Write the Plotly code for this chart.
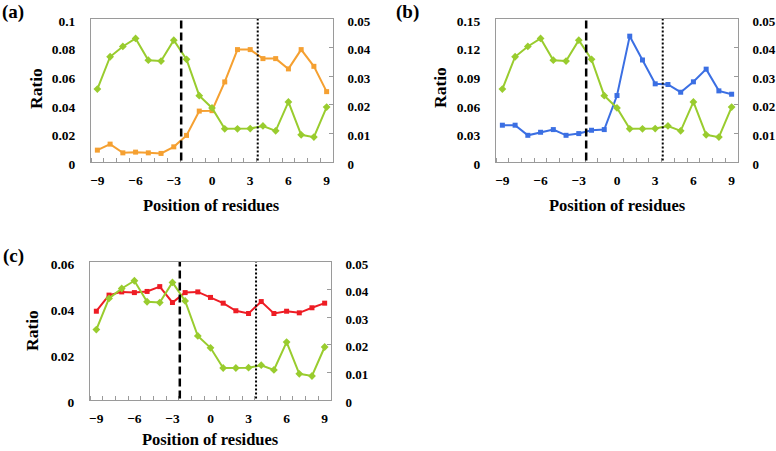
import plotly.graph_objects as go

# ---------------- data ----------------
positions = list(range(-9, 10))

# common series (right axis, green diamonds)
green_ratio = [0.0255, 0.0368, 0.0404, 0.0432, 0.0356, 0.0353, 0.0426, 0.0359, 0.0232, 0.0189,
               0.0116, 0.0116, 0.0117, 0.0126, 0.0109, 0.0210, 0.0095, 0.0087, 0.0192]

# panel (a) orange squares (left axis)
orange_ratio = [0.0083, 0.0125, 0.0064, 0.0069, 0.0064, 0.0060, 0.0106, 0.0186, 0.0356, 0.0359,
                0.0560, 0.0786, 0.0786, 0.0723, 0.0723, 0.0651, 0.0786, 0.0669, 0.0492]

# panel (b) blue squares (left axis)
blue_ratio = [0.0386, 0.0386, 0.0280, 0.0312, 0.0340, 0.0280, 0.0298, 0.0333, 0.0340, 0.0697,
              0.1320, 0.1070, 0.0820, 0.0813, 0.0732, 0.0841, 0.0974, 0.0746, 0.0711]

# panel (c) red squares (left axis)
red_ratio = [0.0386, 0.0456, 0.0470, 0.0467, 0.0472, 0.0493, 0.0424, 0.0467, 0.0470, 0.0446,
             0.0421, 0.0388, 0.0376, 0.0428, 0.0376, 0.0386, 0.0379, 0.0401, 0.0421]

x_ticks = [-9, -6, -3, 0, 3, 6, 9]
left_ticks_a = [0, 0.02, 0.04, 0.06, 0.08, 0.1]
left_ticks_b = [0, 0.03, 0.06, 0.09, 0.12, 0.15]
left_ticks_c = [0, 0.02, 0.04, 0.06]
right_ticks = [0, 0.01, 0.02, 0.03, 0.04, 0.05]

dashed_pos = -2.42
dotted_pos = 3.59

panel_labels = ["(a)", "(b)", "(c)"]
x_title = "Position of residues"
y_title = "Ratio"

# ---------------- styling ----------------
W, H = 776, 451
FONT = "Liberation Serif, Times New Roman, serif"
GREEN = "#99cc2e"
ORANGE = "#f5a031"
BLUE = "#3b6fe3"
RED = "#ee1c24"
AXC = "#9a9a9a"

def px_x(v):
    return v / W

def px_y(v):
    return 1 - v / H

panels = [
    dict(x0=91, x1=333, top=19, bot=162, lr=[0, 0.1], lt=left_ticks_a, s=orange_ratio, c=ORANGE),
    dict(x0=496, x1=738, top=19, bot=162, lr=[0, 0.15], lt=left_ticks_b, s=blue_ratio, c=BLUE),
    dict(x0=90, x1=331, top=262, bot=400, lr=[0, 0.06], lt=left_ticks_c, s=red_ratio, c=RED),
]

fig = go.Figure()
layout = dict(width=W, height=H, margin=dict(l=0, r=0, t=0, b=0), autosize=False,
              paper_bgcolor="white", plot_bgcolor="white", showlegend=False,
              font=dict(family=FONT, size=14, color="black", weight="bold"))
shapes = []
annotations = []

tickfont = dict(family=FONT, size=13.5, color="black", weight="bold")
rtickfont = dict(family=FONT, size=13, color="black", weight="bold")

for i, p in enumerate(panels):
    xi = i + 1
    yl = 2 * i + 1
    yr = 2 * i + 2
    xname = "xaxis" if xi == 1 else f"xaxis{xi}"
    xref = "x" if xi == 1 else f"x{xi}"
    ylname = "yaxis" if yl == 1 else f"yaxis{yl}"
    ylref = "y" if yl == 1 else f"y{yl}"
    yrname = f"yaxis{yr}"
    yrref = f"y{yr}"
    ydom = [px_y(p["bot"]), px_y(p["top"])]

    layout[xname] = dict(domain=[px_x(p["x0"]), px_x(p["x1"])], anchor=ylref,
                         range=[-9.5, 9.5], tickmode="array", tickvals=x_ticks,
                         ticks="", showline=True, linecolor=AXC, linewidth=1, mirror=True,
                         showgrid=False, zeroline=False, tickfont=tickfont,
                         ticklabelstandoff=6, automargin=False,
                         minor=dict(ticks="inside", tick0=0.5, dtick=1, ticklen=4,
                                    tickcolor=AXC, tickwidth=1, showgrid=False))
    layout[ylname] = dict(domain=ydom, anchor=xref, range=p["lr"], tickmode="array",
                          tickvals=p["lt"], ticks="", showline=True, linecolor=AXC,
                          linewidth=1, showgrid=False, zeroline=False, tickfont=tickfont,
                          ticklabelstandoff=12, ticklabelshift=2, automargin=False)
    layout[yrname] = dict(overlaying=ylref, anchor=xref, side="right", range=[0, 0.05],
                          tickmode="array", tickvals=right_ticks, ticks="inside", ticklen=4,
                          tickcolor=AXC, showline=True, linecolor=AXC, linewidth=1,
                          showgrid=False, zeroline=False, tickfont=rtickfont,
                          ticklabelstandoff=11, ticklabelshift=2, automargin=False)

    fig.add_trace(go.Scatter(x=positions, y=p["s"], mode="lines+markers", xaxis=xref, yaxis=ylref,
                             line=dict(color=p["c"], width=2),
                             marker=dict(symbol="square", size=5, color=p["c"])))
    fig.add_trace(go.Scatter(x=positions, y=green_ratio, mode="lines+markers", xaxis=xref, yaxis=yrref,
                             line=dict(color=GREEN, width=2),
                             marker=dict(symbol="diamond", size=6, color=GREEN)))

    shapes.append(dict(type="line", xref=xref, yref=f"{ylref} domain", x0=dashed_pos, x1=dashed_pos,
                       y0=0.01, y1=1, line=dict(color="black", width=2.5, dash="8px,4px"), layer="above"))
    shapes.append(dict(type="line", xref=xref, yref=f"{ylref} domain", x0=dotted_pos, x1=dotted_pos,
                       y0=0.01, y1=1, line=dict(color="black", width=2, dash="2px,2px"), layer="above"))

title_font = dict(family=FONT, size=16.5, color="black", weight="bold")
ytitle_font = dict(family=FONT, size=17.5, color="black", weight="bold")
label_font = dict(family=FONT, size=19, color="black", weight="bold")
for (tx, ty) in [(212, 205), (617, 205), (210, 439)]:
    annotations.append(dict(text=x_title, x=px_x(tx), y=px_y(ty), xref="paper", yref="paper",
                            xanchor="center", yanchor="middle", showarrow=False, font=title_font))
for (tx, ty) in [(36, 89), (440, 88), (32, 331)]:
    annotations.append(dict(text=y_title, x=px_x(tx), y=px_y(ty), xref="paper", yref="paper",
                            xanchor="center", yanchor="middle", showarrow=False, textangle=-90,
                            font=ytitle_font))
for lab, (tx, ty) in zip(panel_labels, [(13, 12), (407, 12), (14, 256)]):
    annotations.append(dict(text=lab, x=px_x(tx), y=px_y(ty), xref="paper", yref="paper",
                            xanchor="center", yanchor="middle", showarrow=False, font=label_font))

layout["shapes"] = shapes
layout["annotations"] = annotations
fig.update_layout(**layout)
fig.write_html("out.html", config={"displayModeBar": False},
               post_script="document.body.style.margin='0';document.body.style.overflow='hidden';")
